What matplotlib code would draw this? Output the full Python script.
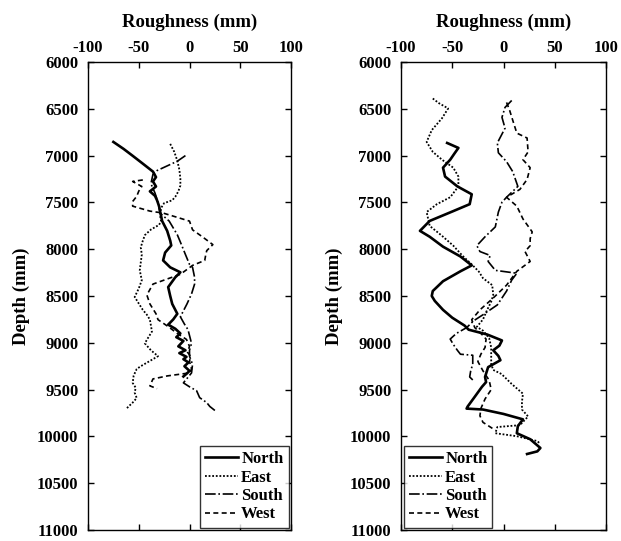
import matplotlib
matplotlib.use("Agg")
import matplotlib.pyplot as plt

plt.rcParams["font.family"] = ["Liberation Serif", "DejaVu Serif"]
plt.rcParams["font.weight"] = "bold"
plt.rcParams["axes.unicode_minus"] = False

ROUGH_TICKS = [-100, -50, 0, 50, 100]
DEPTH_TICKS = [6000, 6500, 7000, 7500, 8000, 8500, 9000, 9500, 10000, 10500, 11000]
SERIES_NAMES = ["North", "East", "South", "West"]

# left panel
left_north_depth = [6854, 6928, 7002, 7086, 7171, 7230, 7276, 7330, 7382, 7430, 7477, 7540, 7593,
                    7698, 7804, 7909, 7960, 8036, 8120, 8194, 8247, 8300, 8405, 8500, 8585, 8690,
                    8750, 8806, 8850, 8900, 8940, 8980, 9038, 9080, 9110, 9150, 9175, 9210, 9250,
                    9300, 9322, 9360]
left_north_rough = [-75, -65, -56, -46, -36, -33, -36, -33, -39, -34, -32, -30, -29,
                    -27, -22, -19, -18, -24, -26, -19, -9, -14, -21, -19, -17, -12,
                    -16, -21, -14, -9, -13, -6, -11, -4, -10, -3, -6, -1, -5,
                    0, -2, -6]

left_east_depth = [6875, 6960, 7055, 7150, 7245, 7320, 7382, 7440, 7477, 7508, 7560, 7640, 7700,
                   7740, 7790, 7850, 7910, 7980, 8057, 8140, 8226, 8331, 8420, 8510, 8580, 8648,
                   8700, 8753, 8880, 8950, 9006, 9080, 9143, 9200, 9250, 9280, 9350, 9428, 9480,
                   9533, 9590, 9639, 9680, 9702]
left_east_rough = [-19, -15, -12, -10, -9, -9, -11, -14, -17, -25, -28, -29, -28,
                   -30, -38, -44, -46, -48, -47, -48, -49, -47, -50, -54, -50, -46,
                   -42, -39, -37, -41, -44, -38, -31, -40, -48, -52, -55, -56, -53,
                   -54, -52, -56, -60, -62]

left_south_depth = [7000, 7060, 7110, 7160, 7200, 7300, 7400, 7500, 7614, 7700, 7846, 7950, 8057,
                    8162, 8194, 8300, 8373, 8478, 8585, 8722, 8800, 8859, 9006, 9080, 9143, 9230,
                    9322, 9428, 9470, 9512, 9586, 9639, 9680, 9723]
left_south_rough = [-4, -12, -22, -32, -36, -38, -34, -31, -29, -20, -12, -8, -4,
                    0, 3, 5, 5, 2, -2.5, -9, -5, -1.5, 2, 0, 0, 3,
                    2, -6, 0, 7, 10, 17, 20, 25]

left_west_depth = [7260, 7276, 7330, 7380, 7435, 7490, 7540, 7593, 7614, 7660, 7700, 7793, 7870,
                   7951, 8015, 8060, 8120, 8173, 8268, 8330, 8373, 8489, 8585, 8690, 8753, 8827,
                   8900, 8964, 9038, 9100, 9143, 9200, 9280, 9322, 9354, 9386, 9460, 9490]
left_west_rough = [-46, -56, -47, -50, -52, -56, -56, -39, -26, -12, 0, 3, 13,
                   23, 17, 16, 15, 3, -9, -25, -36, -42, -39, -33, -31, -21,
                   -12, -3, 0, -2, 1, 0, 2, 0, -22, -36, -39, -32]

# right panel
right_north_depth = [6865, 6918, 6980, 7044, 7129, 7224, 7329, 7413, 7519, 7593, 7698, 7804, 7867,
                     7973, 8078, 8173, 8236, 8342, 8447, 8500, 8553, 8648, 8732, 8816, 8860, 8911,
                     8975, 9030, 9080, 9140, 9186, 9260, 9365, 9420, 9470, 9576, 9681, 9703, 9713,
                     9760, 9818, 9890, 9966, 10030, 10124, 10160, 10188]
right_north_rough = [-55, -44, -48, -52, -59, -57, -45, -31, -33, -49, -72, -81.5, -72,
                     -59, -42, -31, -42, -59, -69, -70, -67, -59, -50, -38, -34, -16,
                     -1.5, -4, -10, -5, -3, -15, -18, -17, -21, -28, -35, -36, -20,
                     0, 19, 14, 13, 26, 36, 33, 23]

right_east_depth = [6390, 6440, 6496, 6601, 6728, 6854, 6960, 7044, 7129, 7224, 7329, 7445, 7519,
                    7603, 7751, 7857, 7962, 8070, 8173, 8240, 8310, 8384, 8489, 8560, 8650, 8750,
                    8830, 8870, 8950, 9050, 9150, 9230, 9290, 9333, 9440, 9544, 9630, 9713, 9787,
                    9880, 9900, 9966, 9998, 10050, 10082]
right_east_rough = [-69, -63, -54, -60, -70, -75, -69, -60, -49, -44, -44, -52, -65,
                    -75, -72, -60, -49, -40, -30, -24, -20, -11, -10, -12, -16, -20,
                    -26, -20, -14, -12, -12, -12, -10, -2, 8, 19, 18, 18, 24,
                    16, -6, -8, 13, 33, 36]

right_south_depth = [6411, 6485, 6591, 6707, 6865, 6970, 7065, 7171, 7329, 7445, 7498, 7603, 7762,
                     7867, 7962, 8025, 8067, 8131, 8226, 8257, 8330, 8447, 8595, 8700, 8764, 8838,
                     8900, 8960, 9017, 9080, 9122, 9133, 9228, 9300, 9365, 9397]
right_south_rough = [8, 1.5, -1.5, 1.5, -6, -5, 3, 9, 14, 3, -1.5, -5, -8,
                     -18, -26, -23, -13, -15, -8, 13, 8, 3, -6, -20, -29, -36,
                     -46, -52, -49, -45, -42, -30, -30, -32, -33, -30]

right_west_depth = [6432, 6517, 6622, 6760, 6812, 6960, 7044, 7129, 7255, 7361, 7445, 7540, 7677,
                    7815, 7888, 7962, 8025, 8131, 8236, 8384, 8521, 8648, 8753, 8838, 8900, 8960,
                    9050, 9120, 9200, 9300, 9400, 9500, 9600, 9700, 9780, 9850, 9920]
right_west_rough = [3, 6, 9, 13, 23, 24, 19, 26, 23, 16, 3, 13, 19,
                    28, 26, 26, 21, 26, 13, 3, -10, -23, -31, -28, -22, -17,
                    -18, -22, -25, -20, -14, -12, -18, -22, -23, -20, -10]

LINE_STYLES = {
    "North": dict(linestyle="-", linewidth=1.9),
    "East": dict(linestyle=(0, (1, 1)), linewidth=1.3),
    "South": dict(linestyle="-.", linewidth=1.2),
    "West": dict(linestyle=(0, (3, 2)), linewidth=1.2),
}


def draw_panel(ax, series, legend_loc):
    for name, (rough, depth) in zip(SERIES_NAMES, series):
        ax.plot(rough, depth, color="black", label=name, **LINE_STYLES[name])
    ax.set_xlim(-100, 100)
    ax.set_ylim(11000, 6000)
    ax.set_xticks(ROUGH_TICKS)
    ax.set_yticks(DEPTH_TICKS)
    ax.xaxis.set_label_position("top")
    ax.set_xlabel("Roughness (mm)", fontsize=13.5, fontweight="bold", labelpad=10)
    ax.set_ylabel("Depth (mm)", fontsize=13.5, fontweight="bold", labelpad=5)
    ax.tick_params(axis="both", direction="in", length=4, width=1, labelsize=12,
                   top=True, bottom=True, left=True, right=True,
                   labeltop=True, labelbottom=False)
    ax.tick_params(axis="y", pad=7)
    ax.tick_params(axis="x", pad=4)
    for label in ax.get_xticklabels() + ax.get_yticklabels():
        label.set_fontweight("bold")
    for spine in ax.spines.values():
        spine.set_linewidth(1.0)
    leg = ax.legend(loc=legend_loc, frameon=True, fancybox=False, edgecolor="black",
                    handlelength=2.0, handletextpad=0.2, borderpad=0.3, labelspacing=0.15,
                    borderaxespad=0.15, prop={"weight": "bold", "size": 12})
    leg.get_frame().set_linewidth(1.0)


fig = plt.figure(figsize=(6.21, 5.41), dpi=100)
ax_left = fig.add_axes([88 / 621, 1 - 530 / 541, 203 / 621, 468 / 541])
ax_right = fig.add_axes([401 / 621, 1 - 530 / 541, 205 / 621, 468 / 541])

draw_panel(ax_left, [(left_north_rough, left_north_depth), (left_east_rough, left_east_depth),
                     (left_south_rough, left_south_depth), (left_west_rough, left_west_depth)],
           "lower right")
draw_panel(ax_right, [(right_north_rough, right_north_depth), (right_east_rough, right_east_depth),
                      (right_south_rough, right_south_depth), (right_west_rough, right_west_depth)],
           "lower left")

fig.savefig("out.png", dpi=100)
